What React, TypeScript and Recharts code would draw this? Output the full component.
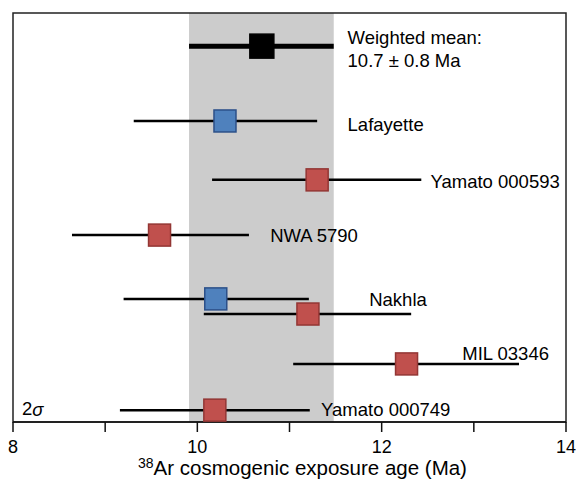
import React from 'react';
import {
    ScatterChart, Scatter, XAxis, YAxis, ErrorBar, ReferenceArea, Label
} from 'recharts';

// exposure ages (Ma) with 2 sigma limits
const meteorites = ['Lafayette', 'Yamato 000593', 'NWA 5790', 'Nakhla', 'Nakhla', 'MIL 03346', 'Yamato 000749'];
const ages = [10.30, 11.30, 9.59, 10.20, 11.20, 12.27, 10.19];
const lower = [9.31, 10.16, 8.64, 9.20, 10.07, 11.04, 9.16];
const upper = [11.30, 12.43, 10.56, 11.21, 12.32, 13.49, 11.22];
const kinds = ['blue', 'red', 'red', 'blue', 'red', 'red', 'red'];
// vertical row of each point (0 = bottom of plot, 100 = top)
const rows = [73.6, 59.2, 45.7, 30.1, 26.4, 14.2, 2.9];

const meanAge = 10.7;
const meanLower = 9.91;
const meanUpper = 11.48;
const meanRow = 91.9;

const xTicks = [8, 9, 10, 11, 12, 13, 14];
const labeledTicks = [8, 10, 12, 14];

// label text and where it sits, in axis units
const labelTexts = ['Weighted mean:', '10.7 \u00b1 0.8 Ma', 'Lafayette', 'Yamato 000593', 'NWA 5790', 'Nakhla', 'MIL 03346', 'Yamato 000749'];
const labelX = [11.63, 11.63, 11.63, 12.53, 10.79, 11.865, 12.874, 11.343];
const labelY = [94.1, 88.5, 72.8, 58.7, 45.7, 29.9, 16.7, 3.0];

const points = ages.map((x, i) => ({
    name: meteorites[i],
    x,
    y: rows[i],
    kind: kinds[i],
    err: [x - lower[i], upper[i] - x],
}));
const bluePts = points.filter(p => p.kind === 'blue');
const redPts = points.filter(p => p.kind === 'red');
const meanPts = [{ x: meanAge, y: meanRow, err: [meanAge - meanLower, meanUpper - meanAge] }];
const labels = labelTexts.map((text, i) => ({ x: labelX[i], y: labelY[i], text }));
const sigmaLabel = [{ x: 8.098, y: 3.2 }];

const FONT = '"Liberation Sans", Arial, sans-serif';

const square = (size: number) => (props: any) => {
    const { cx, cy, fill, stroke } = props;
    return (
        <rect x={cx - size / 2} y={cy - size / 2} width={size} height={size}
            fill={fill} stroke={stroke} strokeWidth={1.5} />
    );
};

const textShape = (props: any) => {
    const { cx, cy, payload } = props;
    return (
        <text x={cx} y={cy} dominantBaseline="central" fontSize={18.5} fontFamily={FONT} fill="#000">
            {payload.text}
        </text>
    );
};

const sigmaShape = (props: any) => {
    const { cx, cy } = props;
    return (
        <text x={cx} y={cy} dominantBaseline="central" fontSize={18.5} fontFamily={FONT} fill="#000">
            2<tspan fontStyle="italic">σ</tspan>
        </text>
    );
};

const axisTitle = (props: any) => {
    const { viewBox } = props;
    const cx = viewBox.x + viewBox.width / 2 + 13;
    const y = viewBox.y + 53;
    return (
        <text x={cx} y={y} textAnchor="middle" fontSize={20.5} fontFamily={FONT} fill="#000">
            <tspan fontSize={14} dy={-7}>38</tspan>
            <tspan dy={7}>Ar cosmogenic exposure age (Ma)</tspan>
        </text>
    );
};

export default function App() {
    return (
        <div style={{ position: 'fixed', top: 0, left: 0, width: 576, height: 481, background: '#fff' }}>
            <ScatterChart width={576} height={481} margin={{ top: 13, right: 10, bottom: 19, left: 13 }}>
                <XAxis type="number" dataKey="x" domain={[8, 14]} ticks={xTicks} allowDataOverflow
                    tickFormatter={(v: number) => (labeledTicks.includes(v) ? String(v) : '')}
                    tickSize={10} tickMargin={8} height={40}
                    axisLine={{ stroke: '#111', strokeWidth: 1.5 }} tickLine={{ stroke: '#111', strokeWidth: 1.5 }}
                    tick={{ fill: '#000', fontSize: 18, fontFamily: FONT }}>
                    <Label content={axisTitle} />
                </XAxis>
                <YAxis type="number" dataKey="y" domain={[0, 100]} hide allowDataOverflow />
                <ReferenceArea x1={meanLower} x2={meanUpper} y1={0} y2={100} fill="#cccccc" fillOpacity={1} stroke="none" />
                <ReferenceArea x1={8} x2={14} y1={0} y2={100} fill="none" stroke="#222" strokeWidth={1.5} />
                <Scatter data={meanPts} fill="#000" stroke="#000" shape={square(24)} isAnimationActive={false}>
                    <ErrorBar dataKey="err" direction="x" width={0} stroke="#000" strokeWidth={5} isAnimationActive={false} />
                </Scatter>
                <Scatter data={bluePts} fill="#4f81bd" stroke="#2c5089" shape={square(22)} isAnimationActive={false}>
                    <ErrorBar dataKey="err" direction="x" width={0} stroke="#000" strokeWidth={2.5} isAnimationActive={false} />
                </Scatter>
                <Scatter data={redPts} fill="#c0504d" stroke="#933634" shape={square(22)} isAnimationActive={false}>
                    <ErrorBar dataKey="err" direction="x" width={0} stroke="#000" strokeWidth={2.5} isAnimationActive={false} />
                </Scatter>
                <Scatter data={labels} shape={textShape} isAnimationActive={false} />
                <Scatter data={sigmaLabel} shape={sigmaShape} isAnimationActive={false} />
            </ScatterChart>
        </div>
    );
}
